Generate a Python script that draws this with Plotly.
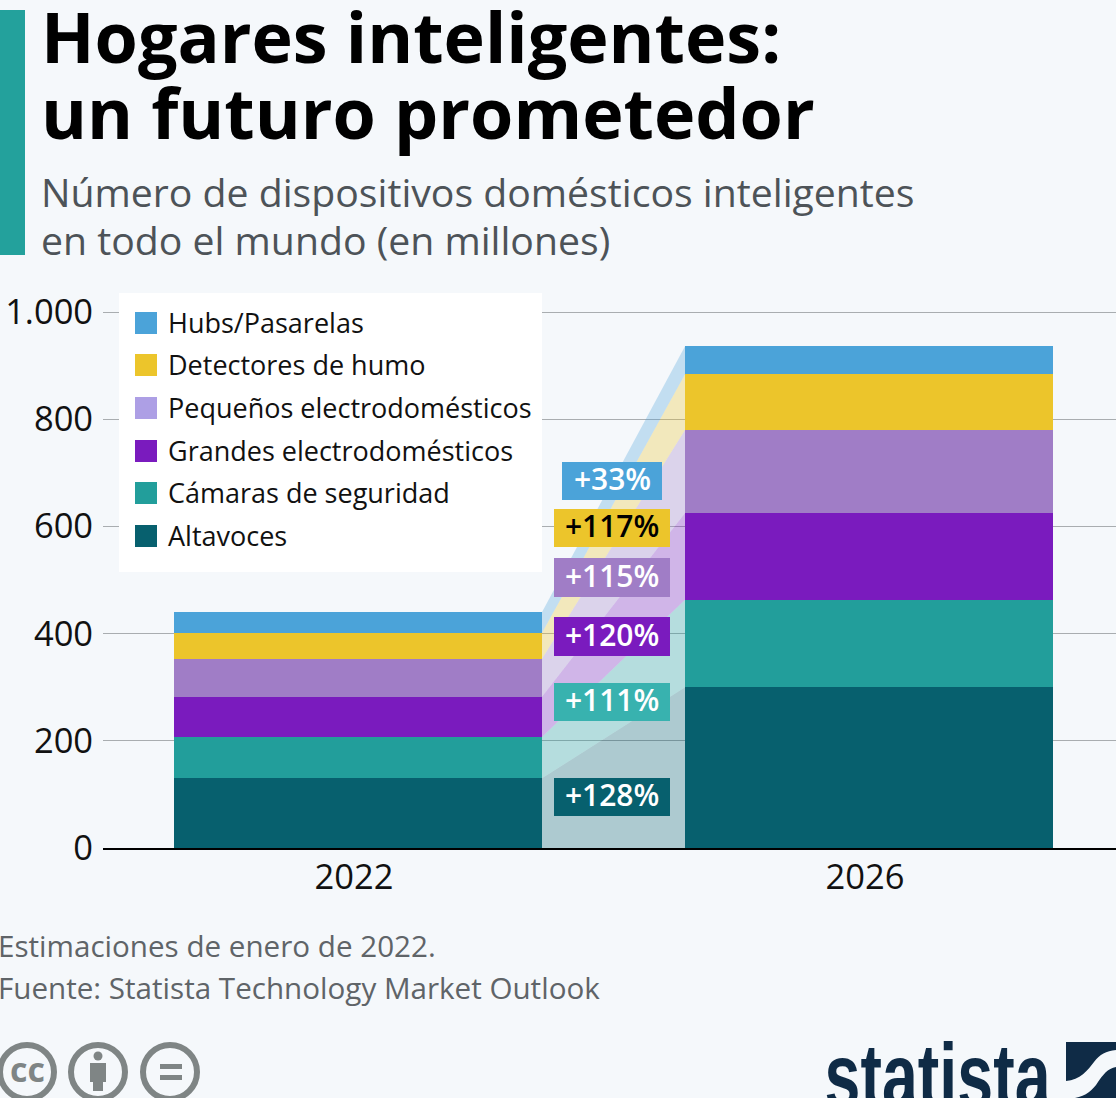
import plotly.graph_objects as go

W, H = 1116, 1098
years = ["2022", "2026"]
series = ["Altavoces", "Cámaras de seguridad", "Grandes electrodomésticos",
          "Pequeños electrodomésticos", "Detectores de humo", "Hubs/Pasarelas"]
v2022 = [130, 77, 75, 71, 48, 39]
v2026 = [300, 163, 162, 155, 104, 52]
changes = ["+128%", "+111%", "+120%", "+115%", "+117%", "+33%"]
yticks = [0, 200, 400, 600, 800, 1000]

bar_colors = ["#07606E", "#229E9B", "#7A1BBE", "#A07DC6", "#ECC52B", "#4BA3D9"]
legend_colors = ["#07606E", "#229E9B", "#7A1BBE", "#AD9FE5", "#ECC52B", "#4BA3D9"]
fill_colors = ["rgba(7,96,110,.3)", "rgba(34,158,155,.3)", "rgba(122,27,190,.3)",
               "rgba(160,125,198,.3)", "rgba(236,197,43,.3)", "rgba(75,163,217,.3)"]
label_bg = ["#07606E", "#38B2AF", "#7A1BBE", "#A07DC6", "#ECC52B", "#4BA3D9"]
label_fg = ["white", "white", "white", "white", "black", "white"]
label_boxes = [(554, 670, 778, 816), (554, 670, 683, 721), (554, 670, 617, 656),
               (554, 670, 558, 597), (554, 670, 509, 547), (562, 662, 462, 500)]
legend_rows = [536, 493, 451, 408, 365, 323]

FONT = "Open Sans"
BG = "#F5F8FB"
DARK = "#0F2B46"
GRAY = "#7F8585"


def xp(px):
    return px / W


def yp(py):
    return 1 - py / H


def cum(vals):
    out, s = [], 0
    for v in vals:
        s += v
        out.append(s)
    return out


fig = go.Figure()
c22, c26 = cum(v2022), cum(v2026)
BAR_W = 0.72
edge_l, edge_r = BAR_W / 2, 1 - BAR_W / 2

for i, name in enumerate(series):
    lo22 = c22[i - 1] if i else 0
    lo26 = c26[i - 1] if i else 0
    fig.add_trace(go.Scatter(
        x=[edge_l, edge_r, edge_r, edge_l, edge_l],
        y=[c22[i], c26[i], lo26, lo22, c22[i]],
        mode="none", fill="toself", fillcolor=fill_colors[i],
        showlegend=False, hoverinfo="skip"))

for i, name in enumerate(series):
    fig.add_trace(go.Bar(x=[0, 1], y=[v2022[i], v2026[i]], name=name,
                         width=BAR_W, marker=dict(color=bar_colors[i], line_width=0),
                         showlegend=False))

shapes, ann = [], []


def rect(x0, x1, y0, y1, color):
    shapes.append(dict(type="rect", xref="paper", yref="paper", x0=xp(x0), x1=xp(x1),
                       y0=yp(y1), y1=yp(y0), fillcolor=color, line_width=0))


def circle(cx, cy, r, line=None, fill=None, lw=5):
    shapes.append(dict(type="circle", xref="paper", yref="paper", x0=xp(cx - r), x1=xp(cx + r),
                       y0=yp(cy + r), y1=yp(cy - r), fillcolor=fill or "rgba(0,0,0,0)",
                       line=dict(color=line or "rgba(0,0,0,0)", width=lw if line else 0)))


def text(t, x, y, size, color, bold=False, xanchor="left", family=FONT):
    ann.append(dict(text=f"<b>{t}</b>" if bold else t, x=xp(x), y=yp(y), xref="paper", yref="paper",
                    xanchor=xanchor, yanchor="middle", showarrow=False, borderpad=0,
                    font=dict(family=family, size=size, color=color)))


# header
rect(0, 25, 10, 255, "#23A19C")
text("Hogares inteligentes:", 40, 36, 70, "#000000", True)
text("un futuro prometedor", 40, 112, 70, "#000000", True)
text("Número de dispositivos domésticos inteligentes", 40, 192, 39.2, "#4D5358")
text("en todo el mundo (en millones)", 40, 239.5, 39.2, "#4D5358")

# legend
rect(119, 542, 293, 572, "#FFFFFF")
for i, name in enumerate(series):
    y = legend_rows[i]
    rect(135, 157, y - 11, y + 11, legend_colors[i])
    text(name, 167, y - 0.7, 27, "#111111")

# change labels
for i, lab in enumerate(changes):
    x0, x1, y0, y1 = label_boxes[i]
    rect(x0, x1, y0, y1, label_bg[i])
    ann.append(dict(text=f"<b>{lab}</b>", x=xp((x0 + x1) / 2), y=yp((y0 + y1) / 2 - 2.5), xref="paper", yref="paper",
                    xanchor="center", yanchor="middle", showarrow=False,
                    font=dict(family="Open Sans SemiBold, " + FONT, size=30, color=label_fg[i])))

# footer
text("Estimaciones de enero de 2022.", -3, 945, 29.6, "#5F6468")
text("Fuente: Statista Technology Market Outlook", -3, 987, 29.6, "#5F6468")

# licence icons
circle(27, 1072, 27, line=GRAY, lw=6)
text("cc", 27, 1069, 34, GRAY, True, "center")
circle(98, 1072, 27, line=GRAY, lw=6)
circle(98, 1056, 4.5, fill=GRAY)
rect(90, 106, 1063, 1082, GRAY)
rect(93, 103, 1082, 1091, GRAY)
circle(170, 1072, 27, line=GRAY, lw=6)
rect(160, 182, 1064, 1069, GRAY)
rect(160, 182, 1075, 1080, GRAY)

# statista logo
text("statista", 938, 1076, 90, DARK, True, xanchor="center", family="Liberation Sans")
rect(1066, 1116, 1042, 1098, DARK)
p = lambda x, y: f"{xp(x):.5f},{yp(y):.5f}"
shapes.append(dict(type="path", xref="paper", yref="paper", fillcolor=BG, line_width=0,
                   path=f"M{p(1066,1081)} C{p(1080,1080)} {p(1088,1070)} {p(1094,1062)} "
                        f"C{p(1100,1054)} {p(1106,1051)} {p(1116,1050)} L{p(1116,1067)} "
                        f"C{p(1108,1068)} {p(1102,1076)} {p(1098,1082)} "
                        f"C{p(1093,1090)} {p(1086,1096)} {p(1075,1098)} L{p(1066,1098)} Z"))

fig.update_layout(
    width=W, height=H, barmode="stack", paper_bgcolor=BG, plot_bgcolor=BG,
    margin=dict(l=0, r=0, t=0, b=0, autoexpand=False), separators=",.", showlegend=False,
    font=dict(family=FONT, color="#111111"), shapes=shapes, annotations=ann,
    xaxis=dict(domain=[103 / W, 1], range=[-0.499, 1.4834], tickmode="array", tickvals=[0, 1], ticktext=years,
               showgrid=False, zeroline=False, showline=True, linecolor="#000000", linewidth=1.5,
               ticks="", ticklabelstandoff=-2, ticklabelshift=-4,
               tickfont=dict(size=34.5, family=FONT, color="#111111")),
    yaxis=dict(domain=[250 / H, 788.68 / H], range=[0, 1005], tickmode="array", tickvals=yticks, tickformat=",d",
               showgrid=True, gridcolor="#A9ADB0", gridwidth=1, zeroline=False, showline=False,
               ticks="outside", ticklen=2, tickcolor="rgba(0,0,0,0)", tickfont=dict(size=34.5, family=FONT, color="#111111")),
)
squeeze = """
document.body.style.margin='0';document.body.style.overflow='hidden';
document.querySelectorAll('.annotation-text').forEach(function(el){
  if(el.textContent==='statista'){el.setAttribute('textLength','226');el.setAttribute('lengthAdjust','spacingAndGlyphs');}
});
"""
fig.write_html("out.html", config=dict(displayModeBar=False), post_script=squeeze)
